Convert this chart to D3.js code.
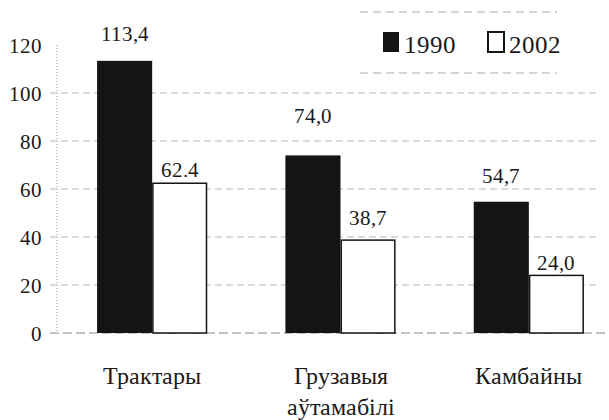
<!DOCTYPE html>
<html><head><meta charset="utf-8">
<script src="https://cdn.jsdelivr.net/npm/d3@7"></script>
<style>
@font-face { font-family: "ChartSerif"; src: local("Liberation Serif"), local("LiberationSerif"), local("Liberation Serif Regular"); }
html, body { margin: 0; padding: 0; background: #fff; }
svg text, svg .tick text { font-family: "ChartSerif", "Liberation Serif", "Tinos", "Times New Roman", serif !important; }
</style>
</head>
<body>
<script>
const categories = ["Трактары", "Грузавыя\nаўтамабілі", "Камбайны"];
const seriesNames = ["1990", "2002"];
const values1990 = [113.4, 74.0, 54.7];
const values2002 = [62.4, 38.7, 24.0];
const labels1990 = ["113,4", "74,0", "54,7"];
const labels2002 = ["62.4", "38,7", "24,0"];
const yTicks = [0, 20, 40, 60, 80, 100, 120];

// styling (label lift above bar top, px)
const lift1990 = [20, 32, 19];
const lift2002 = [6, 15, 5];

const FONT = "ChartSerif, 'Liberation Serif', serif";
const W = 609, H = 420;
const svg = d3.select("body").append("svg").attr("width", W).attr("height", H);

const y = d3.scaleLinear().domain([0, 120]).range([333, 45]);
const x0 = d3.scaleBand().domain(categories).range([58, 623]).paddingInner(0.415).paddingOuter(0.2075);
const x1 = d3.scaleBand().domain(seriesNames).range([0, x0.bandwidth()]);

function sText(g, x, yy, str, size, anchor) {
  return g.append("text")
    .attr("x", x).attr("y", yy)
    .attr("text-anchor", anchor || "middle")
    .attr("font-family", FONT)
    .attr("fill", "#1a1a1a")
    .attr("font-size", size)
    .text(str);
}

// gridlines
svg.append("g").selectAll("line").data(yTicks.filter(t => t > 0 && t < 120)).join("line")
  .attr("x1", 50).attr("x2", 600)
  .attr("y1", d => y(d)).attr("y2", d => y(d))
  .attr("stroke", "#b5b5b5").attr("stroke-width", 1).attr("stroke-dasharray", "7,4");
// baseline
svg.append("line").attr("x1", 50).attr("x2", 605).attr("y1", y(0)).attr("y2", y(0))
  .attr("stroke", "#888").attr("stroke-width", 1.2).attr("stroke-dasharray", "9,4");
// vertical axis (dotted)
svg.append("line").attr("x1", 57).attr("x2", 57).attr("y1", y(120)).attr("y2", y(0))
  .attr("stroke", "#999").attr("stroke-width", 1).attr("stroke-dasharray", "1,2");

// y tick labels
const yAxis = d3.axisLeft(y).tickValues(yTicks).tickSize(0).tickPadding(15).tickFormat(d3.format("d"));
const ag = svg.append("g").attr("transform", "translate(57,0)").call(yAxis);
ag.attr("font-family", FONT).attr("font-size", 21);
ag.select(".domain").remove();
ag.selectAll(".tick text").attr("fill", "#1a1a1a").attr("dy", "0.36em");

// bars
const rows = categories.map((c, i) => ({c, i, vals: [values1990[i], values2002[i]]}));
const groups = svg.append("g").selectAll("g").data(rows).join("g")
  .attr("transform", d => `translate(${x0(d.c)},0)`);
groups.selectAll("rect").data(d => d.vals.map((v, k) => ({s: seriesNames[k], v}))).join("rect")
  .attr("x", d => x1(d.s) + (d.s === "2002" ? 0.75 : 0))
  .attr("y", d => y(d.v))
  .attr("width", d => x1.bandwidth() - (d.s === "2002" ? 1.5 : 0))
  .attr("height", d => y(0) - y(d.v))
  .attr("fill", d => d.s === "1990" ? "#141414" : "#fff")
  .attr("stroke", d => d.s === "1990" ? "none" : "#141414")
  .attr("stroke-width", 1.5);

// value labels
const lg = svg.append("g");
categories.forEach((c, i) => {
  const cx1 = x0(c) + x1("1990") + x1.bandwidth() / 2;
  const cx2 = x0(c) + x1("2002") + x1.bandwidth() / 2;
  sText(lg, cx1, y(values1990[i]) - lift1990[i], labels1990[i], 21);
  sText(lg, cx2, y(values2002[i]) - lift2002[i], labels2002[i], 21);
});

// category labels
const cg = svg.append("g");
categories.forEach(c => {
  const cx = x0(c) + x0.bandwidth() / 2;
  c.split("\n").forEach((line, j) => {
    sText(cg, cx, 384 + j * 31, line, 24);
  });
});

// legend
const leg = svg.append("g");
leg.append("line").attr("x1", 360).attr("x2", 557).attr("y1", 12).attr("y2", 12)
  .attr("stroke", "#aaa").attr("stroke-dasharray", "8,5");
leg.append("line").attr("x1", 360).attr("x2", 557).attr("y1", 73).attr("y2", 73)
  .attr("stroke", "#aaa").attr("stroke-dasharray", "8,5");
const legX = [383, 488];
seriesNames.forEach((s, k) => {
  leg.append("rect").attr("x", legX[k]).attr("y", 32).attr("width", 16).attr("height", 20)
    .attr("fill", s === "1990" ? "#141414" : "#fff")
    .attr("stroke", "#141414").attr("stroke-width", s === "1990" ? 0 : 2);
  sText(leg, legX[k] + 21, 53, s, 25, "start");
});
</script>
</body></html>
